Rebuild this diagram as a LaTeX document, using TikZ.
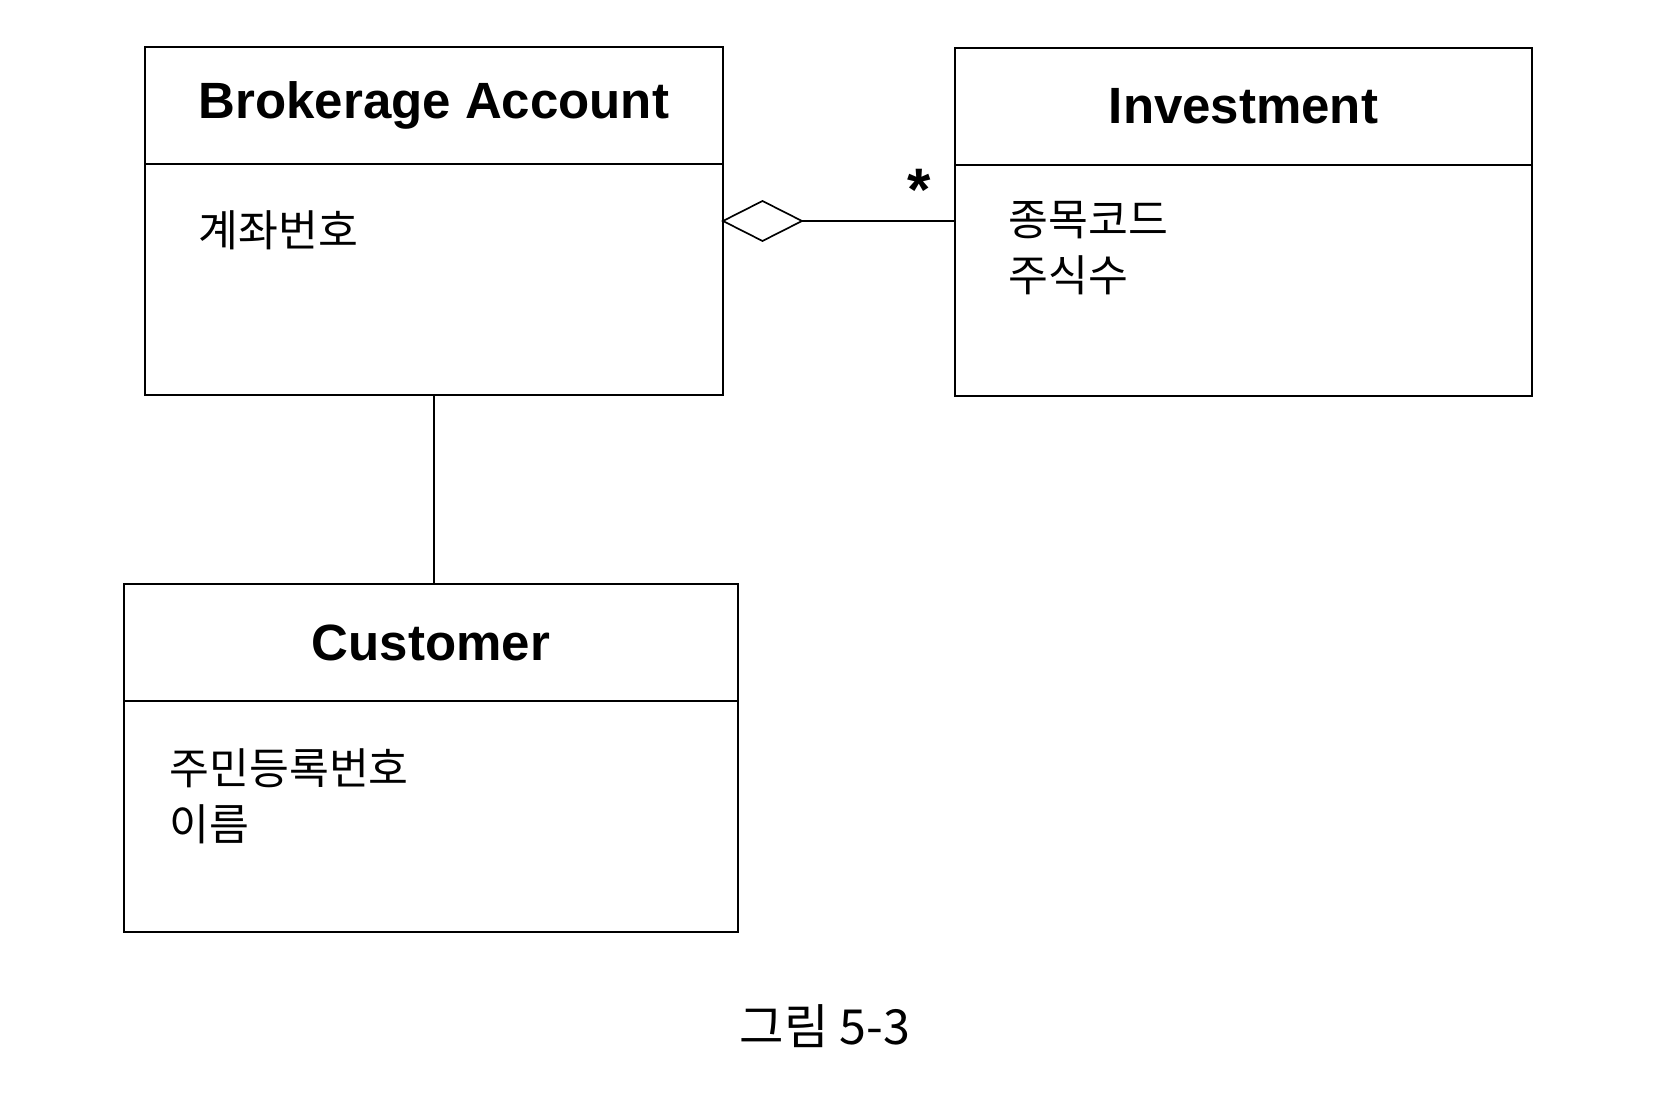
\documentclass[tikz,border=0pt]{standalone}
\usepackage{fontspec}
\setmainfont{Liberation Sans}
\newfontfamily\kofont{Noto Sans CJK KR}
\usetikzlibrary{positioning, calc, shapes.geometric}

\begin{document}
\begin{tikzpicture}[
  x=0.3pt, y=-0.3pt,
  classhead/.style={draw, rectangle, minimum height=35.1pt, inner sep=0pt,
                    outer sep=0pt, line width=0.5pt,
                    font=\fontsize{15.3pt}{18pt}\selectfont\bfseries},
  classbody/.style={draw, rectangle, minimum height=69.3pt, inner sep=0pt,
                    outer sep=0pt, line width=0.5pt},
  attr/.style={anchor=west, align=left, inner sep=0pt,
               font=\kofont\fontsize{13pt}{16.8pt}\selectfont},
  aggr/.style={draw, diamond, aspect=2, minimum width=23.7pt,
               minimum height=12pt, inner sep=0pt, outer sep=0pt,
               line width=0.5pt, fill=white},
  assoc/.style={line width=0.5pt},
  mult/.style={font=\fontsize{18pt}{20pt}\selectfont\bfseries, inner sep=0pt},
  caption/.style={font=\kofont\fontsize{14.5pt}{16pt}\selectfont, inner sep=0pt},
]
\path[use as bounding box] (0,0) rectangle (1676,1098);
\node[classhead, minimum width=173.4pt, anchor=north west] (BAhead) at (145,47)
  {Brokerage Account};
\node[classbody, minimum width=173.4pt, below=0pt of BAhead] (BAbody) {};
\node[classhead, minimum width=173.1pt, anchor=north west] (INhead) at (955,48)
  {Investment};
\node[classbody, minimum width=173.1pt, below=0pt of INhead] (INbody) {};
\node[classhead, minimum width=184.2pt, anchor=north west] (Chead) at (124,584)
  {Customer};
\node[classbody, minimum width=184.2pt, below=0pt of Chead] (Cbody) {};

\node[attr] (BAattr) at (198,230)   {계좌번호};
\node[attr] (INattr) at (1008,248.5) {종목코드\\주식수};
\node[attr] (Cattr)  at (169,796.5) {주민등록번호\\이름};

\node[aggr, anchor=west] (agg) at ($(BAhead.north east)!0.5!(BAbody.south east)$) {};
\coordinate (INport) at (agg.east -| INhead.west);
\node[mult] (star) at ($(INport)+(-36,-31)$) {*};

\draw[assoc] (agg.east) -- (INport);
\draw[assoc] (BAbody.south) -- (BAbody.south |- Chead.north);

\node[caption] (fig) at (825,1026) {그림 5-3};
\end{tikzpicture}
\end{document}
